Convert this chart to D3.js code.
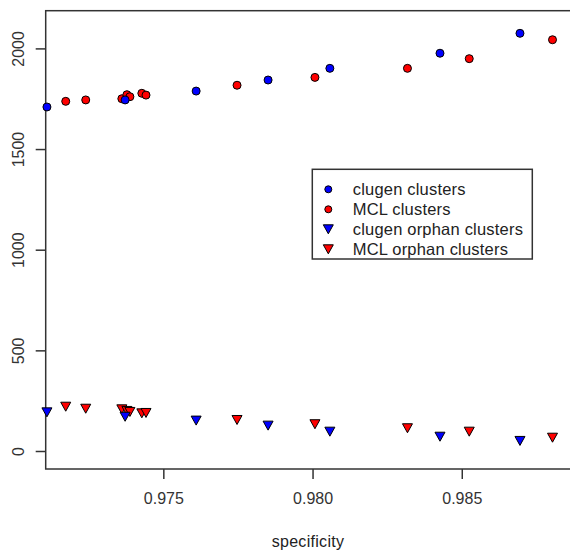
<!DOCTYPE html>
<html><head><meta charset="utf-8">
<script src="https://cdn.jsdelivr.net/npm/d3@7"></script>
<style>body{margin:0;background:#fff}svg{display:block}</style>
</head><body><svg id="c" width="570" height="550"></svg>
<script>
const clugenSpec = [0.97110, 0.97372, 0.97610, 0.97851, 0.98058, 0.98427, 0.98695];
const clugenClusters = [1709, 1744, 1788, 1843, 1901, 1976, 2075];
const clugenOrphans = [192, 170, 151, 126, 96, 71, 50];
const mclSpec = [0.97173, 0.97240, 0.97361, 0.97378, 0.97388, 0.97428, 0.97442, 0.97747, 0.98008, 0.98318, 0.98525, 0.98804];
const mclClusters = [1737, 1744, 1750, 1770, 1760, 1777, 1768, 1817, 1856, 1901, 1949, 2043];
const mclOrphans = [220, 210, 207, 199, 194, 187, 189, 154, 133, 113, 96, 66];
const xTicks = [0.975, 0.980, 0.985];
const yTicks = [0, 500, 1000, 1500, 2000];
const legendLabels = ["clugen clusters", "MCL clusters", "clugen orphan clusters", "MCL orphan clusters"];
const xLabel = "specificity";

(function () {
const svg = d3.select("#c");
const font = "'Liberation Sans', Arial, Helvetica, sans-serif";
const pL = 45.7, pT = 10.7, pB = 469, pR = 600;
const x = d3.scaleLinear().domain([0.970, 0.990]).range([14.1, 611]);
const y = d3.scaleLinear().domain([0, 2000]).range([451, 48.4]);

const blue = "#0000ff", red = "#ff0000";

// x axis
const xAxis = d3.axisBottom(x).tickValues(xTicks).tickSize(10).tickPadding(14).tickFormat(d3.format(".3f"));
const gx = svg.append("g").attr("transform", `translate(0,${pB})`).call(xAxis);
gx.select(".domain").remove();
gx.selectAll("text").attr("font-family", font).attr("font-size", 16).attr("fill", "#333");
gx.selectAll("line").attr("stroke", "#333").attr("stroke-width", 1.5);

// y axis
const yAxis = d3.axisLeft(y).tickValues(yTicks).tickSize(10).tickFormat(d3.format("d"));
const gy = svg.append("g").attr("transform", `translate(${pL},0)`).call(yAxis);
gy.select(".domain").remove();
gy.selectAll("line").attr("stroke", "#333").attr("stroke-width", 1.5);
gy.selectAll(".tick text")
  .attr("font-family", font).attr("font-size", 16).attr("fill", "#333")
  .attr("x", 0).attr("y", 0).attr("dy", null)
  .attr("text-anchor", "middle")
  .attr("transform", "translate(-21.5,0) rotate(-90)");

// frame
svg.append("rect").attr("x", pL).attr("y", pT).attr("width", pR - pL).attr("height", pB - pT)
  .attr("fill", "none").attr("stroke", "#333").attr("stroke-width", 1.5);

svg.append("text").attr("x", 308).attr("y", 547).attr("text-anchor", "middle")
  .attr("font-family", font).attr("font-size", 16).attr("letter-spacing", 0.3)
  .attr("fill", "#222").text(xLabel);

const tri = (cx, cy, w, h) => `M${cx - w/2},${cy - h/2}L${cx + w/2},${cy - h/2}L${cx},${cy + h/2}Z`;

const plot = svg.append("g");
function circles(xs, ys, col) {
  plot.selectAll(null).data(xs.map((v, i) => [v, ys[i]])).enter().append("circle")
    .attr("cx", d => x(d[0])).attr("cy", d => y(d[1])).attr("r", 4)
    .attr("fill", col).attr("stroke", "#000").attr("stroke-width", 1);
}
function triangles(xs, ys, col) {
  plot.selectAll(null).data(xs.map((v, i) => [v, ys[i]])).enter().append("path")
    .attr("d", d => tri(x(d[0]), y(d[1]), 10, 9))
    .attr("fill", col).attr("stroke", "#000").attr("stroke-width", 1);
}
circles(mclSpec, mclClusters, red);
circles(clugenSpec, clugenClusters, blue);
triangles(mclSpec, mclOrphans, red);
triangles(clugenSpec, clugenOrphans, blue);

// legend
const lg = svg.append("g");
lg.append("rect").attr("x", 312.3).attr("y", 169.3).attr("width", 220).attr("height", 89.7)
  .attr("fill", "#fff").attr("stroke", "#333").attr("stroke-width", 1.5);
const cols = [blue, red, blue, red];
legendLabels.forEach((t, i) => {
  const cy = 189.3 + i * 20;
  if (i < 2) {
    lg.append("circle").attr("cx", 328.3).attr("cy", cy).attr("r", 3.5)
      .attr("fill", cols[i]).attr("stroke", "#000").attr("stroke-width", 1);
  } else {
    lg.append("path").attr("d", tri(328.3, cy, 10, 9))
      .attr("fill", cols[i]).attr("stroke", "#000").attr("stroke-width", 1);
  }
  lg.append("text").attr("x", 352.7).attr("y", cy + 5.5).attr("font-family", font)
    .attr("font-size", 16.5).attr("letter-spacing", 0.2).attr("fill", "#222").text(t);
});
})();
</script></body></html>
